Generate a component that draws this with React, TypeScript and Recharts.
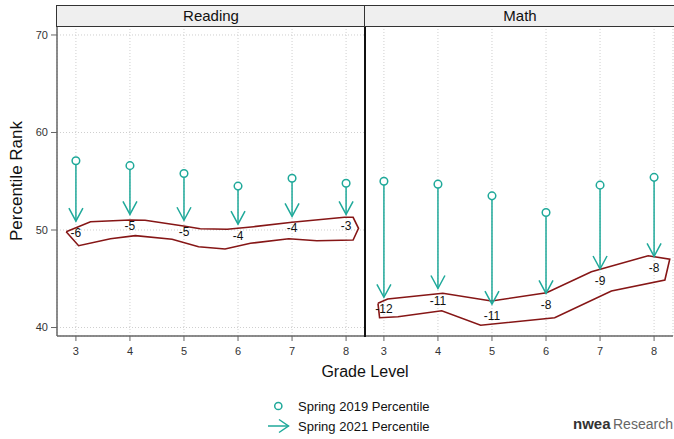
import { CartesianGrid, ComposedChart, Scatter, XAxis, YAxis } from 'recharts';

const GRADES = [3, 4, 5, 6, 7, 8];
const GRADE_TICKS = [3, 4, 5, 6, 7, 8];
const RANK_TICKS = [40, 50, 60, 70];

const READING_2019 = [57.1, 56.6, 55.8, 54.5, 55.3, 54.8];
const READING_2021 = [50.9, 51.6, 51.0, 50.6, 51.4, 51.6];
const READING_DIFF = [-6, -5, -5, -4, -4, -3];

const MATH_2019 = [55.0, 54.7, 53.5, 51.8, 54.6, 55.4];
const MATH_2021 = [43.1, 44.0, 42.4, 43.5, 46.0, 47.3];
const MATH_DIFF = [-12, -11, -11, -8, -9, -8];

// outline drawn around the 2021 tips (grade, percentile)
const READING_HULL_X = [2.82, 3.27, 4.0, 4.28, 4.99, 5.3, 5.8, 6.29, 7.0, 7.97, 8.13, 8.23, 8.13, 7.46, 6.94, 6.23, 5.76, 5.27, 4.78, 4.1, 3.64, 3.05];
const READING_HULL_Y = [49.83, 50.85, 51.03, 51.0, 50.41, 50.13, 50.07, 50.34, 50.79, 51.3, 51.3, 50.17, 48.97, 48.9, 49.11, 48.64, 48.05, 48.29, 49.05, 49.42, 49.11, 48.39];
const MATH_HULL_X = [2.89, 3.07, 4.09, 4.99, 6.01, 6.84, 7.89, 8.29, 8.2, 7.21, 6.16, 4.79, 4.07, 3.26, 2.92];
const MATH_HULL_Y = [42.48, 42.92, 43.51, 42.72, 43.57, 45.72, 47.36, 47.0, 44.87, 43.74, 41.0, 40.23, 41.72, 41.1, 41.0];

const TEAL = '#1fa99a';
const HULL = '#861616';
const FONT = '"Liberation Sans", Arial, sans-serif';

type Pt = { x: number; y: number; diff?: number };

const toPoints = (xs: number[], ys: number[]): Pt[] => {
  const pts = xs.map((x, i) => ({ x, y: ys[i] }));
  return [...pts, pts[0]];
};

const Nothing = () => <g />;

const Ring = (props: any) => {
  const { cx, cy } = props;
  return <circle cx={cx} cy={cy} r={3.8} fill="#fff" stroke={TEAL} strokeWidth={1.5} />;
};

const ArrowTip = (props: any) => {
  const { cx, cy, payload } = props;
  return (
    <g>
      <polyline
        points={`${cx - 7},${cy - 13} ${cx},${cy} ${cx + 7},${cy - 13}`}
        fill="none"
        stroke={TEAL}
        strokeWidth={1.5}
      />
      <text x={cx} y={cy + 12} textAnchor="middle" dominantBaseline="central" fontSize={12} fill="#111" fontFamily={FONT}>
        {payload.diff}
      </text>
    </g>
  );
};

interface PanelProps {
  before: number[];
  after: number[];
  diff: number[];
  hullX: number[];
  hullY: number[];
  withAxis: boolean;
  left: number;
  width: number;
}

function Panel({ before, after, diff, hullX, hullY, withAxis, left, width }: PanelProps) {
  const rings = GRADES.map((g, i) => ({ x: g, y: before[i] }));
  const tips = GRADES.map((g, i) => ({ x: g, y: after[i], diff: diff[i] }));
  const hull = toPoints(hullX, hullY);
  return (
    <div style={{ position: 'absolute', left, top: 0 }}>
      <ComposedChart width={width} height={362} margin={{ top: 26, right: 1, bottom: 0, left: 0 }}>
        <CartesianGrid stroke="#cfcfcf" strokeDasharray="1 2" />
        <XAxis
          dataKey="x"
          type="number"
          domain={[2.65, 8.35]}
          ticks={GRADE_TICKS}
          allowDataOverflow
          height={26}
          tickSize={5}
          tickMargin={6}
          stroke="#666"
          axisLine={{ stroke: '#666', strokeWidth: 1.5 }}
          tick={{ fill: '#333', fontSize: 11, fontFamily: FONT }}
        />
        <YAxis
          dataKey="y"
          type="number"
          domain={[39.13, 70.92]}
          ticks={RANK_TICKS}
          allowDataOverflow
          width={withAxis ? 57 : 0}
          tick={withAxis ? { fill: '#333', fontSize: 11, fontFamily: FONT } : false}
          tickLine={withAxis ? { stroke: '#666' } : false}
          axisLine={withAxis ? { stroke: '#666', strokeWidth: 1.5 } : false}
          tickSize={6}
          tickMargin={3}
        />
        <Scatter data={hull} line={{ stroke: HULL, strokeWidth: 1.6 }} lineType="joint" shape={Nothing} isAnimationActive={false} />
        {GRADES.map((g, i) => (
          <Scatter
            key={g}
            data={[
              { x: g, y: before[i] },
              { x: g, y: after[i] },
            ]}
            line={{ stroke: TEAL, strokeWidth: 1.5 }}
            lineType="joint"
            shape={Nothing}
            isAnimationActive={false}
          />
        ))}
        <Scatter data={rings} shape={Ring} isAnimationActive={false} />
        <Scatter data={tips} shape={ArrowTip} isAnimationActive={false} />
      </ComposedChart>
    </div>
  );
}

const stripStyle = (left: number, width: number): React.CSSProperties => ({
  position: 'absolute',
  left,
  top: 5,
  width,
  height: 22,
  boxSizing: 'border-box',
  background: '#efefef',
  border: '1.5px solid #333',
  fontSize: 15,
  lineHeight: '19px',
  textAlign: 'center',
  color: '#111',
});

export default function App() {
  return (
    <div style={{ position: 'absolute', left: 0, top: 0, width: 674, height: 439, background: '#fff', fontFamily: FONT, overflow: 'hidden' }}>
      <Panel before={READING_2019} after={READING_2021} diff={READING_DIFF} hullX={READING_HULL_X} hullY={READING_HULL_Y} withAxis left={0} width={366} />
      <Panel before={MATH_2019} after={MATH_2021} diff={MATH_DIFF} hullX={MATH_HULL_X} hullY={MATH_HULL_Y} withAxis={false} left={365} width={309} />
      <div style={{ position: 'absolute', left: 364, top: 26, width: 2, height: 311, background: '#111' }} />
      <div style={stripStyle(56, 310)}>Reading</div>
      <div style={stripStyle(364, 312)}>Math</div>
      <div
        style={{
          position: 'absolute',
          left: 17,
          top: 181,
          transform: 'translate(-50%, -50%) rotate(-90deg)',
          whiteSpace: 'nowrap',
          fontSize: 17,
          color: '#111',
        }}
      >
        Percentile Rank
      </div>
      <div style={{ position: 'absolute', left: 365, top: 372, transform: 'translate(-50%, -50%)', whiteSpace: 'nowrap', fontSize: 16, color: '#111' }}>
        Grade Level
      </div>
      <svg style={{ position: 'absolute', left: 0, top: 390 }} width={674} height={49}>
        <circle cx={278.3} cy={16} r={3.6} fill="none" stroke={TEAL} strokeWidth={1.5} />
        <text x={298} y={20.5} fontSize={13} fill="#111" fontFamily={FONT}>
          Spring 2019 Percentile
        </text>
        <line x1={268} y1={36} x2={288.5} y2={36} stroke={TEAL} strokeWidth={1.5} />
        <polyline points="279,29.5 288.5,36 279,42.5" fill="none" stroke={TEAL} strokeWidth={1.5} />
        <text x={298} y={40.5} fontSize={13} fill="#111" fontFamily={FONT}>
          Spring 2021 Percentile
        </text>
        <text x={573} y={39} fontSize={15} fontWeight={900} fill="#333" fontFamily={FONT}>
          nwea
        </text>
        <text x={613} y={39} fontSize={14} fill="#666" fontFamily={FONT}>
          Research
        </text>
      </svg>
    </div>
  );
}
